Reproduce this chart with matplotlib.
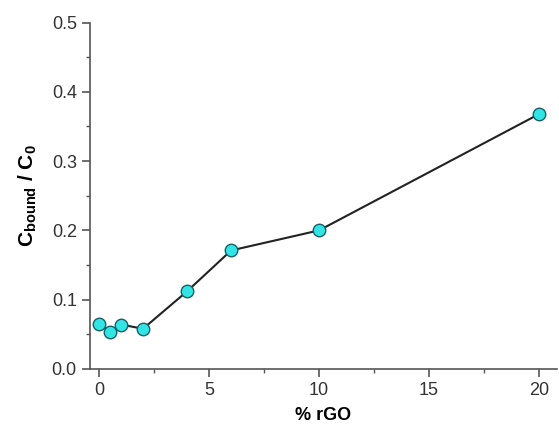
import matplotlib
matplotlib.use("Agg")
from matplotlib import pyplot as plt
from matplotlib.ticker import MultipleLocator, FormatStrFormatter

# 数据
rgo = [0, 0.5, 1, 2, 4, 6, 10, 20]
c_ratio = [0.065, 0.054, 0.064, 0.058, 0.112, 0.171, 0.200, 0.368]

plt.rcParams["font.family"] = ["Liberation Sans", "DejaVu Sans"]
plt.rcParams["mathtext.fontset"] = "custom"
plt.rcParams["mathtext.bf"] = "Liberation Sans:bold"
plt.rcParams["mathtext.rm"] = "Liberation Sans:bold"

fig = plt.figure(figsize=(5.59, 4.26), dpi=100)
ax = fig.add_axes([0.161, 0.134, 0.835, 0.813])

ax.plot(rgo, c_ratio, color="#222222", linewidth=1.5,
        marker="o", markersize=9, markerfacecolor="#2ee6e6",
        markeredgecolor="#1a5f66", markeredgewidth=1.0)

ax.set_xlim(-0.41, 20.8)
ax.set_ylim(0, 0.5)
ax.xaxis.set_major_locator(MultipleLocator(5))
ax.xaxis.set_minor_locator(MultipleLocator(2.5))
ax.yaxis.set_major_locator(MultipleLocator(0.1))
ax.yaxis.set_minor_locator(MultipleLocator(0.05))
ax.yaxis.set_major_formatter(FormatStrFormatter("%.1f"))

# 去掉右边和顶部的坐标轴线
ax.spines["right"].set_color("none")
ax.spines["top"].set_color("none")
for s in ("left", "bottom"):
    ax.spines[s].set_color("#555555")
    ax.spines[s].set_linewidth(1.2)

ax.tick_params(which="major", direction="out", length=6, width=1.2,
               color="#555555", labelsize=13, labelcolor="#333333")
ax.tick_params(which="minor", direction="out", length=3, width=1.0,
               color="#555555")

ax.set_xlabel("% rGO", fontsize=13, fontweight="bold", labelpad=6)
ax.set_ylabel(r"$\mathbf{C_{bound}}$ / $\mathbf{C_0}$", fontsize=15,
              fontweight="bold", labelpad=9)

fig.savefig("out.png", dpi=100)
